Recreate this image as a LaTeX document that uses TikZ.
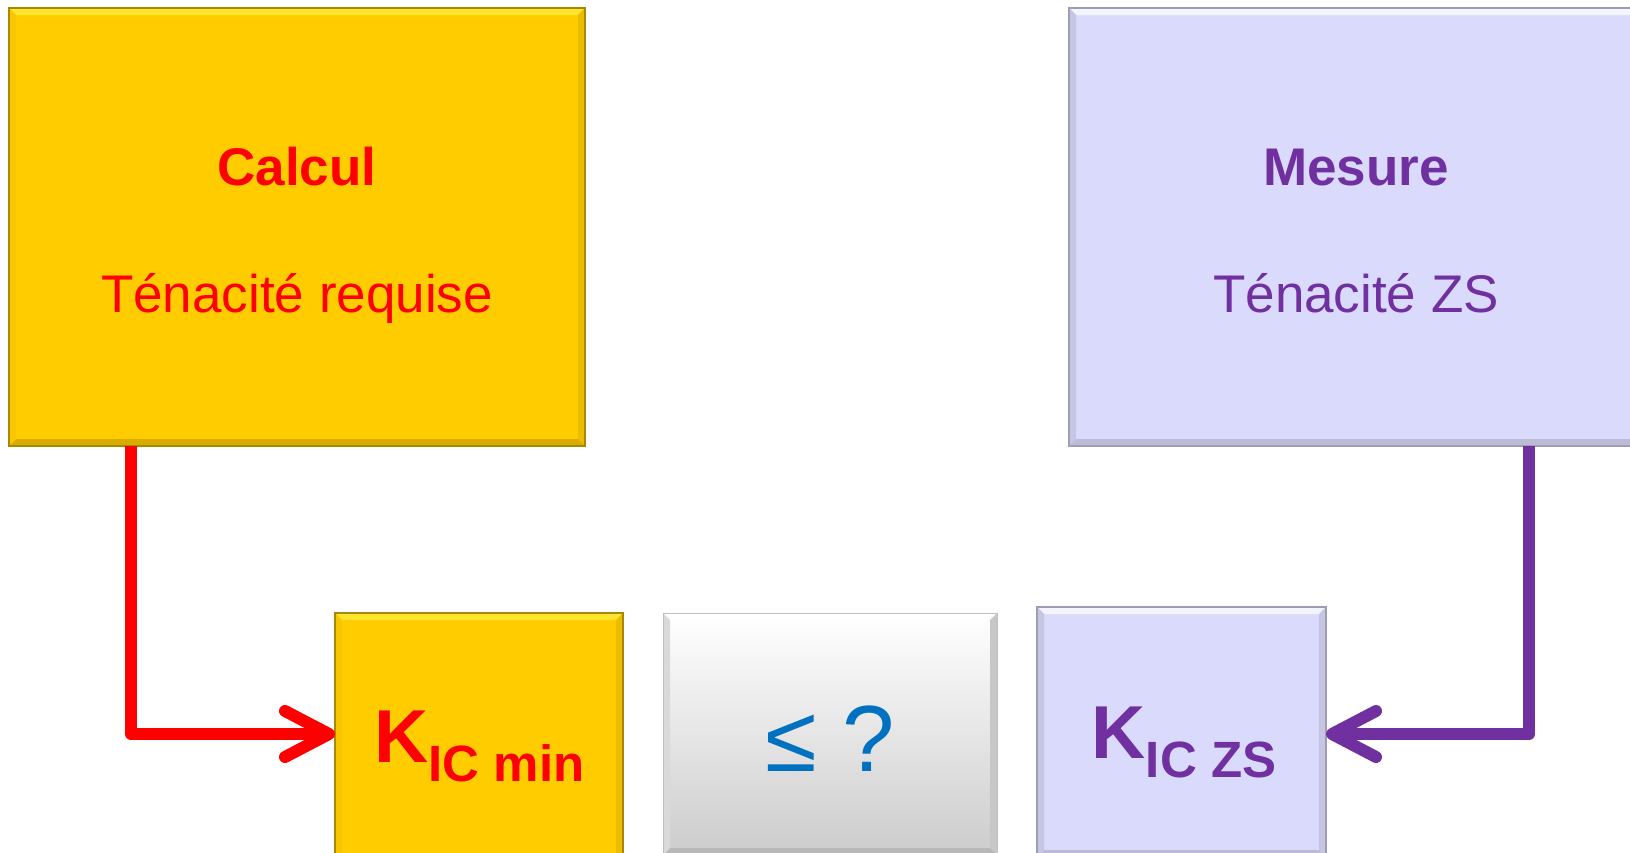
\documentclass[tikz,border=0pt]{standalone}
\usepackage{fontspec}
\setmainfont{Liberation Sans}
\usetikzlibrary{arrows.meta}

\definecolor{gold}{HTML}{FFCC00}
\definecolor{goldlight}{HTML}{FFE62E}
\definecolor{goldside}{HTML}{EBBC00}
\definecolor{golddark}{HTML}{D9AC00}
\definecolor{goldedge}{HTML}{A88800}
\definecolor{lav}{HTML}{DADAFC}
\definecolor{lavlight}{HTML}{F4F4FF}
\definecolor{lavside}{HTML}{C6C6E4}
\definecolor{lavdark}{HTML}{BBBBD6}
\definecolor{lavedge}{HTML}{9D9DB5}
\definecolor{purp}{HTML}{7030A0}
\definecolor{leqblue}{HTML}{0070C0}
\newcommand{\bw}{7pt}

\tikzset{
  bevel/.style n args={4}{path picture={
    \path (path picture bounding box.north west) coordinate (nw)
          (path picture bounding box.north east) coordinate (ne)
          (path picture bounding box.south east) coordinate (se)
          (path picture bounding box.south west) coordinate (sw);
    \fill[#1] (nw) -- (ne) -- ([shift={(-\bw,-\bw)}]ne) -- ([shift={(\bw,-\bw)}]nw) -- cycle;
    \fill[#2] (ne) -- (se) -- ([shift={(-\bw,\bw)}]se) -- ([shift={(-\bw,-\bw)}]ne) -- cycle;
    \fill[#3] (se) -- (sw) -- ([shift={(\bw,\bw)}]sw) -- ([shift={(-\bw,\bw)}]se) -- cycle;
    \fill[#4] (sw) -- (nw) -- ([shift={(\bw,-\bw)}]nw) -- ([shift={(\bw,\bw)}]sw) -- cycle;
  }},
  goldbox/.style={draw=goldedge, line width=1.5pt, fill=gold,
    bevel={goldlight}{goldside}{golddark}{gold!60!goldside}},
  lavbox/.style={draw=lavedge, line width=1.5pt, fill=lav,
    bevel={lavlight}{lavside}{lavdark}{lavside}},
  greybox/.style={draw=black!25, line width=1pt, top color=white, middle color=white,
    bottom color=black!20, bevel={white}{black!22}{black!28}{black!15}},
  titletxt/.style={font=\fontsize{53}{60}\selectfont\bfseries, anchor=base},
  subtxt/.style={font=\fontsize{53}{60}\selectfont, anchor=base},
  ktxt/.style={font=\fontsize{75}{75}\selectfont\bfseries, anchor=base},
  connector/.style={line width=12pt, line join=round,
    -{Straight Barb[length=44pt, width=46pt, round]}},
}
\newcommand{\ksub}[1]{K\raisebox{-19pt}{\fontsize{51}{51}\selectfont #1}}

\begin{document}
\begin{tikzpicture}[x=1pt, y=-1pt, inner sep=0pt, outer sep=0pt]
    \useasboundingbox (0,0) rectangle (1630,852);
    \clip (0,0) rectangle (1630,852);

    \node[goldbox, minimum width=576pt, minimum height=438pt] (calcul) at (297,227) {};
    \node[lavbox, minimum width=576pt, minimum height=438pt] (mesure) at (1357,227) {};
    \node[goldbox, minimum width=288pt, minimum height=250pt] (kmin) at (479,738) {};
    \node[greybox, minimum width=334pt, minimum height=242pt] (leq) at (830,734) {};
    \node[lavbox, minimum width=289pt, minimum height=250pt] (kzs) at (1181.5,732) {};

    \node[titletxt, text=red] (calcultitle) at (297,185) {Calcul};
    \node[subtxt, text=red] (calculsub) at (297,312) {Ténacité requise};
    \node[titletxt, text=purp] (mesuretitle) at (1356,185) {Mesure};
    \node[subtxt, text=purp] (mesuresub) at (1356,312) {Ténacité ZS};

    \node[ktxt, text=red] (kmintxt) at (479.5,762) {\ksub{IC min}};
    \node[ktxt, text=purp] (kzstxt) at (1184,758) {\ksub{IC ZS}};
    \node[font=\fontsize{94}{94}\selectfont, text=leqblue, anchor=base] (leqtxt) at (830,771) {≤ ?};

    \draw[connector, red] ([xshift=122pt]calcul.south west) |- ([yshift=4pt]kmin.west);
    \draw[connector, purp] ([xshift=172pt]mesure.south) |- ([yshift=-2pt]kzs.east);
\end{tikzpicture}
\end{document}
